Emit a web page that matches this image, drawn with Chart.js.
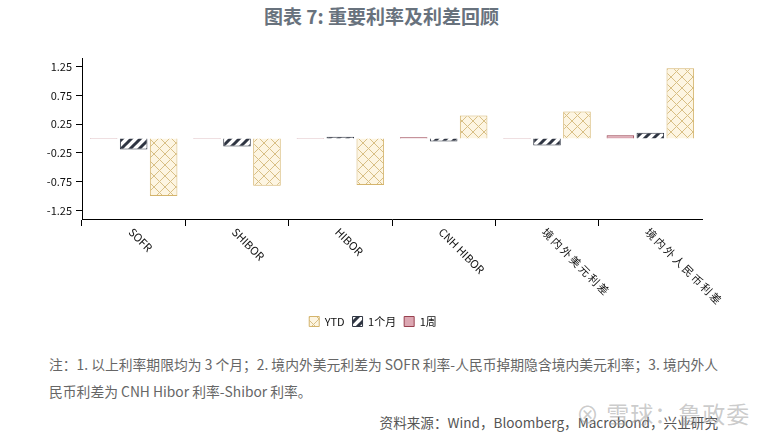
<!DOCTYPE html>
<html>
<head>
<meta charset="utf-8">
<script src="https://cdn.jsdelivr.net/npm/chart.js@4/dist/chart.umd.min.js"></script>
<style>
  html, body { margin: 0; padding: 0; background: #fff; }
  body { width: 763px; height: 438px; position: relative; overflow: hidden; font-family: 'Noto Sans CJK SC', sans-serif; }
  #title { position: absolute; top: 2px; left: 0; width: 763px; text-align: center; font-size: 19px; font-weight: bold; color: #68727d; }
  #wrap { position: absolute; left: 0; top: 0; width: 763px; height: 345px; }
  .note { position: absolute; left: 49px; font-size: 13.8px; color: #666; white-space: nowrap; }
  #src { position: absolute; right: 45px; top: 412px; font-size: 13.6px; color: #555; white-space: nowrap; }
  #wm { position: absolute; left: 576px; top: 396px; font-size: 23px; color: rgba(160,160,160,0.55); letter-spacing: 1px; white-space: nowrap; }
</style>
</head>
<body>
<div id="title">图表 7: 重要利率及利差回顾</div>
<div id="wrap"><canvas id="barChart"></canvas></div>
<div class="note" style="top:354px">注：1. 以上利率期限均为 3 个月；2. 境内外美元利差为 SOFR 利率-人民币掉期隐含境内美元利率；3. 境内外人</div>
<div class="note" style="top:381px">民币利差为 CNH Hibor 利率-Shibor 利率。</div>
<div id="src">资料来源：Wind，Bloomberg，Macrobond，兴业研究</div>
<div id="wm">⊗ 雪球：鲁政委</div>
<script>
var categories = ['SOFR', 'SHIBOR', 'HIBOR', 'CNH HIBOR', '境内外美元利差', '境内外人民币利差'];
var week = [-0.01, -0.01, 0.01, 0.02, -0.01, 0.055];
var month = [-0.19, -0.14, 0.03, -0.05, -0.12, 0.10];
var ytd = [-1.0, -0.82, -0.81, 0.40, 0.47, 1.22];
var yTicks = [-1.25, -1, -0.75, -0.5, -0.25, 0, 0.25, 0.5, 0.75, 1, 1.25];

var labelFont = "'Liberation Sans Narrow', 'Noto Sans CJK SC', sans-serif";

function crossPattern() {
	var c = document.createElement('canvas');
	c.width = 11; c.height = 11;
	var g = c.getContext('2d');
	g.fillStyle = '#fdf5e2';
	g.fillRect(0, 0, 11, 11);
	g.strokeStyle = '#d8bf85';
	g.lineWidth = 1;
	g.beginPath();
	g.moveTo(0, 0); g.lineTo(11, 11);
	g.moveTo(11, 0); g.lineTo(0, 11);
	g.stroke();
	return g.createPattern(c, 'repeat');
}

function stripePattern() {
	var c = document.createElement('canvas');
	c.width = 9; c.height = 9;
	var g = c.getContext('2d');
	g.fillStyle = '#ffffff';
	g.fillRect(0, 0, 9, 9);
	g.strokeStyle = '#2f3542';
	g.lineWidth = 3;
	g.beginPath();
	g.moveTo(-2, 11); g.lineTo(11, -2);
	g.moveTo(-5, 5); g.lineTo(5, -5);
	g.moveTo(4, 14); g.lineTo(14, 4);
	g.stroke();
	return g.createPattern(c, 'repeat');
}

// rotated category labels, drawn clockwise from each tick
var xLabels = {
	id: 'xLabels',
	afterDraw: function(chart) {
		var ctx = chart.ctx;
		var xs = chart.scales.x;
		ctx.save();
		ctx.fillStyle = '#111';
		ctx.font = '11px ' + labelFont;
		ctx.textAlign = 'left';
		ctx.textBaseline = 'middle';
		categories.forEach(function(lab, i) {
			var x = xs.getPixelForValue(i);
			ctx.save();
			ctx.translate(x - 3, xs.top + 11);
			ctx.rotate(Math.PI / 4);
			if (/[^\x00-\x7f]/.test(lab)) ctx.letterSpacing = '2px';
			ctx.fillText(lab, 0, 0);
			ctx.restore();
		});
		ctx.restore();
	}
};

var ctx = document.getElementById('barChart').getContext('2d');
var myBarChart = new Chart(ctx, {
	type: 'bar',
	data: {
		labels: categories,
		datasets: [
			{
				label: '1周',
				data: week,
				backgroundColor: '#dca7b2',
				borderColor: '#98404f',
				borderWidth: 1
			},
			{
				label: '1个月',
				data: month,
				backgroundColor: stripePattern(),
				borderColor: '#2f3542',
				borderWidth: 1
			},
			{
				label: 'YTD',
				data: ytd,
				backgroundColor: crossPattern(),
				borderColor: '#d4b46c',
				borderWidth: 1
			}
		]
	},
	options: {
		responsive: true,
		maintainAspectRatio: false,
		animation: false,
		layout: { padding: { top: 58, left: 0, right: 17, bottom: 8 } },
		datasets: { bar: { categoryPercentage: 0.87, barPercentage: 0.92 } },
		plugins: {
			legend: {
				position: 'bottom',
				reverse: true,
				labels: {
					boxWidth: 10,
					boxHeight: 10,
					padding: 8,
					color: '#111',
					font: { size: 11, family: labelFont }
				}
			},
			tooltip: { enabled: false }
		},
		scales: {
			x: {
				grid: {
					offset: true,
					drawOnChartArea: false,
					tickLength: 7,
					color: function(c) { return c.type === 'tick' ? '#000' : 'rgba(0,0,0,0)'; }
				},
				border: { color: '#000' },
				ticks: { display: false },
				afterFit: function(s) { s.height = 89; }
			},
			y: {
				min: -1.4,
				max: 1.4,
				afterBuildTicks: function(s) {
					s.ticks = yTicks.map(function(v) { return { value: v }; });
				},
				afterFit: function(s) { s.width = 82; },
				grid: { drawOnChartArea: false, tickLength: 6, color: '#000' },
				border: { color: '#000' },
				ticks: {
					padding: 4,
					color: '#111',
					font: { size: 11, family: labelFont },
					callback: function(v) {
						return Math.round(v * 4) % 2 !== 0 ? v.toFixed(2) : '';
					}
				}
			},
			y2: {
				position: 'right',
				grid: { display: false },
				border: { display: false },
				ticks: { display: false },
				afterFit: function(s) { s.width = 44; }
			}
		}
	},
	plugins: [xLabels]
});
</script>
</body>
</html>
